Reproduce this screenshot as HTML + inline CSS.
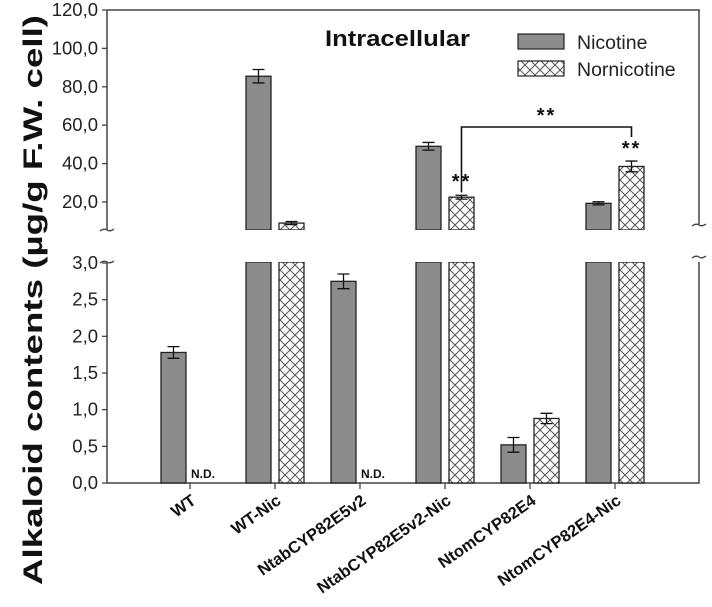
<!DOCTYPE html>
<html><head><meta charset="utf-8"><style>
body{margin:0;background:#fff;}
svg{display:block;font-family:"Liberation Sans",sans-serif;}
</style></head><body>
<svg id="chart" width="712" height="607" viewBox="0 0 712 607" xmlns="http://www.w3.org/2000/svg">
<defs>
<pattern id="hatch" width="10" height="10" patternUnits="userSpaceOnUse">
<rect width="10" height="10" fill="#fff"/>
<path d="M0,0 L10,10 M10,0 L0,10" stroke="#555" stroke-width="1"/>
</pattern>
</defs>
<g id="plot"></g>
</svg>
<script>
const categories=["WT","WT-Nic","NtabCYP82E5v2","NtabCYP82E5v2-Nic","NtomCYP82E4","NtomCYP82E4-Nic"];
const nicotine=[1.78,85.5,2.75,49,0.52,19.3];
const nicotineErr=[0.08,3.5,0.1,2,0.1,0.8];
const nornicotine=[null,9,null,22.5,0.88,38.5];
const nornicotineErr=[0,0.8,0,1,0.07,2.8];
const upperTicks=[20,40,60,80,100,120];
const upperTickLabels=["20,0","40,0","60,0","80,0","100,0","120,0"];
const lowerTicks=[0,0.5,1,1.5,2,2.5,3];
const lowerTickLabels=["0,0","0,5","1,0","1,5","2,0","2,5","3,0"];

const NS="http://www.w3.org/2000/svg";
const g=document.getElementById('plot');
function el(tag,attrs,text){const e=document.createElementNS(NS,tag);for(const k in attrs)e.setAttribute(k,attrs[k]);if(text!=null)e.textContent=text;g.appendChild(e);return e;}
const L=107,R=699,TOP=10,BREAK_UP=230,BREAK_LO=262,BASE=483;
function yUp(v){return TOP+(120-v)*(BREAK_UP-TOP)/(120-5.4);}
function yLo(v){return BASE-v*(BASE-263)/3;}
function yVal(v){return v>3?yUp(v):yLo(v);}
function xTick(i){return 190+i*85;}

let a;
a=el('path',{d:`M${L},${TOP} L${R},${TOP} L${R},${BREAK_UP-5}`,fill:'none',stroke:'#444','stroke-width':1.5});

a=el('path',{d:`M${L},${TOP} L${L},${BREAK_UP}`,fill:'none',stroke:'#444','stroke-width':1.5});

a=el('path',{d:`M${L},${BREAK_LO} L${L},${BASE} L${R},${BASE} L${R},${BREAK_LO}`,fill:'none',stroke:'#444','stroke-width':1.5});

[[L,BREAK_UP],[R,BREAK_UP-5]].forEach(p=>{const s=el('path',{d:`M${p[0]-7},${p[1]+1} q4,-3 7,-1 q3,2 7,-1`,fill:'none',stroke:'#444','stroke-width':1.3});
});
[[L,BREAK_LO],[R,BREAK_LO-5]].forEach(p=>{const s=el('path',{d:`M${p[0]-7},${p[1]+1} q4,-3 7,-1 q3,2 7,-1`,fill:'none',stroke:'#444','stroke-width':1.3});
});

upperTicks.forEach((v,i)=>{const y=yUp(v);
const t=el('line',{x1:L-5,x2:L,y1:y,y2:y,stroke:'#444','stroke-width':1.3});
const tx=el('text',{x:L-9,y:y+6,'text-anchor':'end','font-size':18.5,fill:'#222'},upperTickLabels[i]);});
lowerTicks.forEach((v,i)=>{const y=yLo(v);
const t=el('line',{x1:L-5,x2:L,y1:y,y2:y,stroke:'#444','stroke-width':1.3});
const tx=el('text',{x:L-9,y:y+6,'text-anchor':'end','font-size':18.5,fill:'#222'},lowerTickLabels[i]);});

function bar(i,v,err,nor){
  const x=nor?xTick(i)+4:xTick(i)-29, w=25, top=yVal(v);
  const fill=nor?'url(#hatch)':'#8c8c8c';
  if(v>3){
    let r=el('rect',{x:x,y:BREAK_LO,width:w,height:BASE-BREAK_LO,fill:fill,stroke:'#222','stroke-width':1.3});
    
    r=el('rect',{x:x,y:top,width:w,height:BREAK_UP-top,fill:fill,stroke:'#222','stroke-width':1.3});
    
    el('line',{x1:x-1,x2:x+w+1,y1:BREAK_UP+1,y2:BREAK_UP+1,stroke:'#fff','stroke-width':2});
    el('line',{x1:x-1,x2:x+w+1,y1:BREAK_LO-1,y2:BREAK_LO-1,stroke:'#fff','stroke-width':2});
  } else {
    const r=el('rect',{x:x,y:top,width:w,height:BASE-top,fill:fill,stroke:'#222','stroke-width':1.3});
    
  }
  const cx=x+w/2,y1=yVal(v+err),y2=yVal(v-err);
  const e=el('path',{d:`M${cx-6},${y1} L${cx+6},${y1} M${cx},${y1} L${cx},${y2} M${cx-6},${y2} L${cx+6},${y2}`,stroke:'#111','stroke-width':1.3,fill:'none'});
  
}
categories.forEach((c,i)=>{
  bar(i,nicotine[i],nicotineErr[i],false);
  if(nornicotine[i]!=null) bar(i,nornicotine[i],nornicotineErr[i],true);
  else {const nd=el('text',{x:xTick(i)+1,y:BASE-5,'font-size':12,'font-weight':'bold',fill:'#111'},'N.D.');}
  const t=el('line',{x1:xTick(i),x2:xTick(i),y1:BASE,y2:BASE+6,stroke:'#444','stroke-width':1.3});
  const lx=xTick(i)+7,ly=BASE+20;
  const lb=el('text',{x:lx,y:ly,'text-anchor':'end','font-size':16.5,'font-weight':'bold',fill:'#111',transform:`rotate(-35 ${lx} ${ly})`},c);
  
});
function nx(i){return xTick(i)+16.5;}
let s=el('path',{d:`M${nx(3)},${yUp(26.5)+3} L${nx(3)},127 L${nx(5)},127 L${nx(5)},137`,fill:'none',stroke:'#111','stroke-width':1.6});

[[ (nx(3)+nx(5))/2,122],[nx(3),188],[nx(5),155]].forEach(p=>{const t=el('text',{x:p[0],y:p[1],'text-anchor':'middle','font-size':20,'font-weight':'bold',fill:'#111','letter-spacing':'2'},'**');});

let t=el('text',{x:325,y:46,'font-size':22,'font-weight':'bold',fill:'#111',textLength:145,lengthAdjust:'spacingAndGlyphs'},'Intracellular');

let r=el('rect',{x:518,y:34,width:46,height:15,fill:'#8c8c8c',stroke:'#222','stroke-width':1.2});
t=el('text',{x:577,y:49,'font-size':19.5,fill:'#222'},'Nicotine');
r=el('rect',{x:518,y:61,width:46,height:15,fill:'url(#hatch)',stroke:'#222','stroke-width':1.2});
t=el('text',{x:577,y:76,'font-size':19.5,fill:'#222'},'Nornicotine');
t=el('text',{x:42,y:300,'text-anchor':'middle','font-size':27,'font-weight':'bold',fill:'#111',textLength:570,lengthAdjust:'spacingAndGlyphs',transform:'rotate(-90 42 300)'},'Alkaloid contents (µg/g F.W. cell)');

</script>
</body></html>
